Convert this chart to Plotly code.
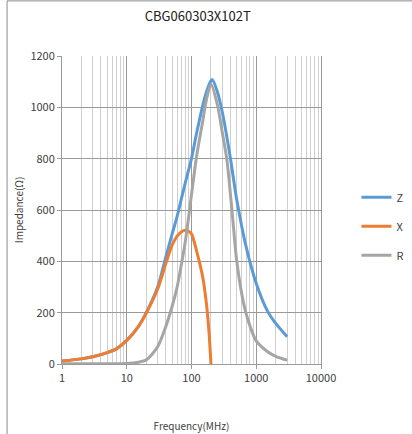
import plotly.graph_objects as go

title_text = "CBG060303X102T"
series_names = ["Z", "X", "R"]
series_colors = ["#5B9BD5", "#ED7D31", "#A5A5A5"]

freq_z = [1, 2, 3, 5, 7, 10, 15, 20, 30, 40, 50, 60, 70, 80, 90, 100, 120, 150, 170, 200, 210, 250, 300, 400, 500, 700, 1000, 1500, 2000, 3000]
z_vals = [12, 20, 28, 44, 60, 92, 145, 200, 300, 415, 505, 575, 645, 705, 755, 800, 900, 1010, 1060, 1103, 1108, 1062, 980, 800, 640, 455, 314, 205, 158, 106]

freq_x = [1, 2, 3, 5, 7, 10, 15, 20, 30, 40, 50, 60, 70, 80, 90, 100, 120, 150, 170, 185, 200]
x_vals = [12, 20, 28, 44, 60, 92, 145, 198, 292, 390, 462, 498, 515, 521, 517, 507, 440, 335, 235, 135, 0]

freq_r = [1, 5, 10, 15, 20, 30, 40, 50, 60, 70, 80, 90, 100, 120, 150, 170, 200, 250, 300, 350, 400, 450, 500, 600, 700, 1000, 1500, 2000, 3000]
r_vals = [1, 1, 2, 7, 16, 67, 145, 223, 300, 390, 475, 570, 660, 810, 950, 1030, 1090, 1012, 900, 800, 660, 520, 400, 270, 195, 90, 48, 30, 15]

x_tickvals = [1, 10, 100, 1000, 10000]
x_ticktext = ["1", "10", "100", "1000", "10000"]
y_tickvals = [0, 200, 400, 600, 800, 1000, 1200]

font_family = "Noto Sans CJK JP, DejaVu Sans, sans-serif"

fig = go.Figure()
for name, color, fx, fy in zip(series_names, series_colors,
                               [freq_z, freq_x, freq_r], [z_vals, x_vals, r_vals]):
    fig.add_trace(go.Scatter(
        x=fx, y=fy, name=name, mode="lines",
        line=dict(color=color, width=3, shape="spline", smoothing=0.8),
        legendgroup=name,
    ))

fig.update_layout(
    width=412, height=434,
    margin=dict(l=62, r=91, t=56, b=70, autoexpand=False),
    paper_bgcolor="white", plot_bgcolor="white",
    font=dict(family=font_family, size=11, color="#404040"),
    title=dict(text=title_text, x=0.48, xanchor="center", y=0.962, yanchor="middle",
               font=dict(size=13, color="#202020", family=font_family), automargin=False),
    showlegend=True,
    legend=dict(x=1.137, y=0.447, xanchor="left", yanchor="middle",
                traceorder="grouped", tracegroupgap=10,
                font=dict(size=11, color="#404040"), bgcolor="rgba(0,0,0,0)"),
    xaxis=dict(
        type="log", range=[0, 4], automargin=False,
        tickvals=x_tickvals, ticktext=x_ticktext,
        showgrid=True, gridcolor="#9a9a9a", gridwidth=1,
        minor=dict(dtick="D1", showgrid=True, gridcolor="#cfcfcf", gridwidth=1, ticks=""),
        ticks="outside", ticklen=4, tickcolor="#9a9a9a",
        showline=True, linecolor="#9a9a9a", linewidth=1,
        title=dict(text="Frequency(MHz)", standoff=38, font=dict(size=10, color="#404040")),
        zeroline=False, tickfont=dict(size=11),
    ),
    yaxis=dict(
        range=[0, 1200], tickvals=y_tickvals, automargin=False,
        showgrid=True, gridcolor="#9a9a9a", gridwidth=1,
        ticks="outside", ticklen=4, tickcolor="#9a9a9a",
        showline=True, linecolor="#9a9a9a", linewidth=1, mirror=True,
        title=dict(text="Impedance(Ω)", standoff=4, font=dict(size=10, color="#404040")),
        zeroline=False, tickfont=dict(size=11),
    ),
)

# outer frame (left and top edges of the chart area)
fig.add_shape(type="line", xref="paper", yref="paper",
              x0=-0.212, x1=-0.212, y0=-0.3, y1=1.179,
              line=dict(color="#8c8c8c", width=1))
fig.add_shape(type="line", xref="paper", yref="paper",
              x0=-0.212, x1=1.4, y0=1.179, y1=1.179,
              line=dict(color="#8c8c8c", width=1))

fig.write_html("out.html", config={"displayModeBar": False},
               post_script="document.body.style.margin='0';document.body.style.overflow='hidden';")
